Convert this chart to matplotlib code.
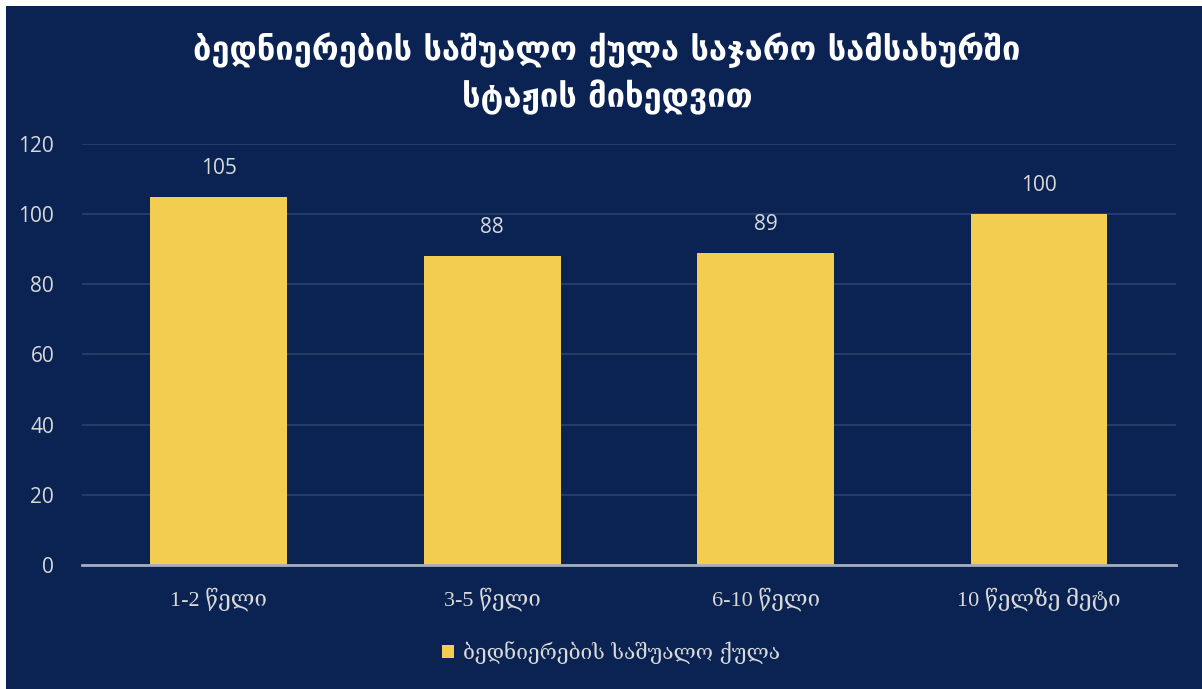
import matplotlib.pyplot as plt
from matplotlib.patches import Rectangle

categories = ['1-2 წელი', '3-5 წელი', '6-10 წელი', '10 წელზე მეტი']
values = [105, 88, 89, 100]
series_name = 'ბედნიერების საშუალო ქულა'
title = 'ბედნიერების საშუალო ქულა საჯარო სამსახურში\nსტაჟის მიხედვით'
yticks = [0, 20, 40, 60, 80, 100, 120]

bg = '#0a2352'
bar_col = '#f2cd4f'
txt = '#d9d9d9'

fig = plt.figure(figsize=(12.02, 6.89), dpi=100, facecolor='white')
fig.patches.append(Rectangle((6 / 1202, 0), 1, 683 / 689, transform=fig.transFigure,
                             facecolor=bg, edgecolor='none', zorder=-1))

ax = fig.add_axes([0.0682, 0.180, 0.910, 0.611])
ax.set_facecolor('none')

x = range(len(categories))
bars = ax.bar(x, values, width=0.5, color=bar_col, zorder=3, label=series_name)
for b, v in zip(bars, values):
    ax.annotate(str(v), (b.get_x() + b.get_width() / 2, v), xytext=(0, 13),
                textcoords='offset points', ha='center', va='bottom',
                color=txt, fontsize=15, family=['Open Sans', 'DejaVu Sans'])

ax.set_xlim(-0.5, len(categories) - 0.5)
ax.set_ylim(0, 120)
ax.set_yticks(yticks)
ax.set_yticklabels([str(t) for t in yticks], color=txt, fontsize=15,
                   family=['Open Sans', 'DejaVu Sans'])
ax.set_xticks(list(x))
ax.set_xticklabels(categories, color=txt, fontsize=16,
                   family=['Liberation Serif', 'DejaVu Serif', 'DejaVu Sans'])
ax.tick_params(axis='both', length=0)
ax.tick_params(axis='x', pad=16)
ax.tick_params(axis='y', pad=20)

ax.grid(axis='y', color='#2b426d', linewidth=1.2, zorder=0)
for s in ['top', 'right', 'left']:
    ax.spines[s].set_visible(False)
ax.spines['bottom'].set_color('#a6aebf')
ax.spines['bottom'].set_linewidth(2)
ax.spines['bottom'].set_zorder(4)

fig.text(0.505, 0.893, title, ha='center', va='center', color='white',
         fontsize=23.5, fontweight='bold', linespacing=1.4)

leg = fig.legend(loc='center', bbox_to_anchor=(0.508, 0.053), frameon=False,
                 handlelength=0.6, handleheight=0.6, handletextpad=0.4,
                 prop={'size': 15, 'family': ['DejaVu Serif', 'DejaVu Sans']})
for t in leg.get_texts():
    t.set_color(txt)

fig.savefig('out.png', dpi=100, facecolor=fig.get_facecolor())
